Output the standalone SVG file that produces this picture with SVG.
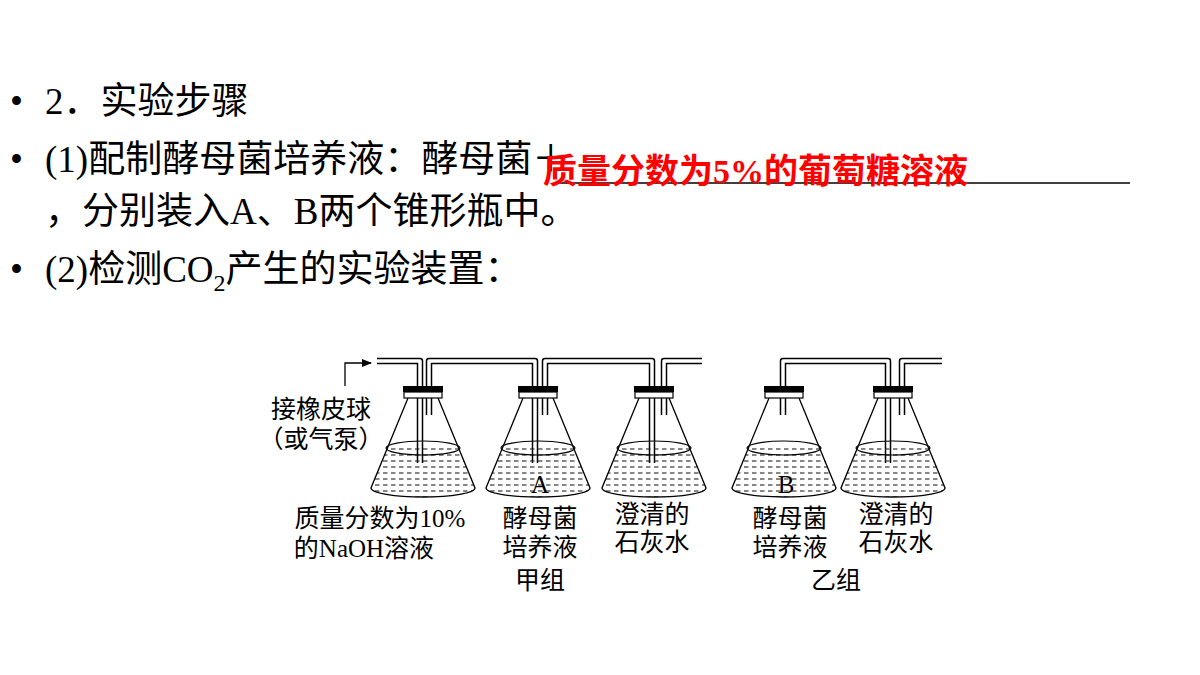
<svg xmlns="http://www.w3.org/2000/svg" width="1200" height="675" viewBox="0 0 1200 675">
<defs>
<pattern id="liq" width="8" height="6" patternUnits="userSpaceOnUse"><line x1="0" y1="3" x2="4.5" y2="3" stroke="#222" stroke-width="1.1"/></pattern>
<marker id="ar" markerWidth="10" markerHeight="8" refX="9" refY="4" orient="auto" markerUnits="userSpaceOnUse"><path d="M0,0 L10,4 L0,8 Z" fill="#000"/></marker>
<clipPath id="lc"><rect x="-60" y="-40" width="120" height="60"/></clipPath>
<g id="flask">
<path d="M-15,-90 L-52,0 A52,9 0 0 0 52,0 L15,-90 Z" fill="url(#liq)" stroke="none" clip-path="url(#lc)"/>
<path d="M-15,-90 L-52,0 A52,9 0 0 0 52,0 L15,-90" fill="none" stroke="#000" stroke-width="1.3"/>
<ellipse cx="0" cy="-40" rx="37" ry="7" fill="none" stroke="#000" stroke-width="1.2"/>
<rect x="-20" y="-102" width="40" height="6" fill="#000"/>
<rect x="-19" y="-96" width="38" height="6" fill="#fff" stroke="#000" stroke-width="1.2"/>
</g>
</defs>
<style>
.t{font-family:"Liberation Serif","Noto Sans CJK SC",serif;font-size:37px;fill:#000}
.l{font-family:"Liberation Serif","Noto Sans CJK SC",serif;font-size:25px;fill:#000;text-anchor:middle}
.tube{fill:none;stroke:#000;stroke-width:6.5;stroke-linejoin:round}
.tin{fill:none;stroke:#fff;stroke-width:3.5;stroke-linejoin:round}
</style>
<g id="text">
<text class="t" x="10" y="114">•</text><text class="t" x="45" y="114">2．实验步骤</text>
<text class="t" x="10" y="172">•</text><text class="t" x="45" y="172">(1)配制酵母菌培养液：酵母菌＋</text>
<text class="t" x="45" y="224">，分别装入A、B两个锥形瓶中。</text>
<text class="t" x="10" y="282">•</text><text class="t" x="45" y="282">(2)检测CO<tspan font-size="24" dy="9">2</tspan><tspan dy="-9">产生的实验装置：</tspan></text>
<line x1="555" y1="183" x2="1130" y2="183" stroke="#000" stroke-width="1.5"/>
<text x="543" y="183" font-family="Liberation Serif,Noto Sans CJK SC,serif" font-size="34" font-weight="bold" fill="#ff0000">质量分数为5%的葡萄糖溶液</text>
</g>
<g id="connectors">
<path class="tube" d="M377,361 H420 V463"/><path class="tin" d="M377,361 H420 V463"/>
<path class="tube" d="M429,415 V361 H535 V463"/><path class="tin" d="M429,415 V361 H535 V463"/>
<path class="tube" d="M545,415 V361 H652 V463"/><path class="tin" d="M545,415 V361 H652 V463"/>
<path class="tube" d="M664,415 V361 H702"/><path class="tin" d="M664,415 V361 H702"/>
<path class="tube" d="M783,415 V361 H888 V463"/><path class="tin" d="M783,415 V361 H888 V463"/>
<path class="tube" d="M902,415 V361 H942"/><path class="tin" d="M902,415 V361 H942"/>
<path d="M345,386 V363 H371" fill="none" stroke="#000" stroke-width="1.3" marker-end="url(#ar)"/>
</g>
<g id="f1"><use href="#flask" x="423" y="488"/></g>
<g id="f2"><use href="#flask" x="538" y="488"/><text class="l" x="540" y="493" font-size="26">A</text></g>
<g id="f3"><use href="#flask" x="654" y="488"/></g>
<g id="f4"><use href="#flask" x="784" y="488"/><text class="l" x="786" y="493" font-size="26">B</text></g>
<g id="f5"><use href="#flask" x="893" y="488"/></g>
<g id="labels">
<text class="l" x="321" y="418">接橡皮球</text>
<text class="l" x="321" y="448">（或气泵）</text>
<text class="l" x="380" y="527">质量分数为10%</text>
<text class="l" x="364" y="557">的NaOH溶液</text>
<text class="l" x="540" y="527">酵母菌</text>
<text class="l" x="540" y="556">培养液</text>
<text class="l" x="540" y="589">甲组</text>
<text class="l" x="652" y="523">澄清的</text>
<text class="l" x="652" y="551">石灰水</text>
<text class="l" x="790" y="527">酵母菌</text>
<text class="l" x="790" y="556">培养液</text>
<text class="l" x="836" y="589">乙组</text>
<text class="l" x="896" y="523">澄清的</text>
<text class="l" x="896" y="551">石灰水</text>
</g>
</svg>
